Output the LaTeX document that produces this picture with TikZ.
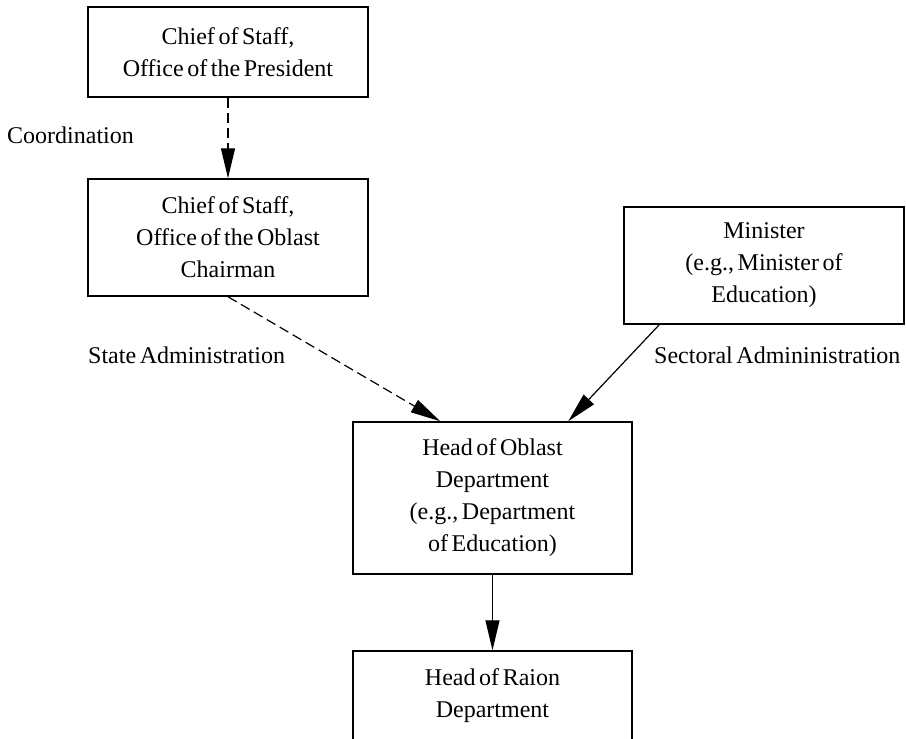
\documentclass[tikz,border=0pt]{standalone}
\usepackage{fontspec}
\setmainfont[WordSpace=0.6]{Liberation Serif}
\usetikzlibrary{arrows.meta}
\begin{document}
\begin{tikzpicture}[x=1pt,y=-1pt,
  box/.style={draw, line width=1.5pt, inner sep=0pt, align=center, font=\fontsize{24}{32}\selectfont},
  lbl/.style={inner sep=0pt, anchor=base west, font=\fontsize{24}{32}\selectfont},
  conn/.style={line width=1.2pt, -{Triangle[length=30pt,width=14pt]}},
  dsh/.style={dash pattern=on 10pt off 5pt}]
\useasboundingbox (0,0) rectangle (906,739);
\node[box, minimum width=280, minimum height=90] (pres) at (228,52) {Chief of Staff,\\Office of the President};
\node[box, minimum width=280, minimum height=117] (obl) at (228,237.5) {Chief of Staff,\\Office of the Oblast\\Chairman};
\node[box, minimum width=280, minimum height=117] (mini) at (764,265.5) {Minister\\(e.g., Minister of\\Education)};
\node[box, minimum width=279, minimum height=152] (head) at (492.5,498) {Head of Oblast\\Department\\(e.g., Department\\of Education)};
\node[box, minimum width=279, minimum height=90] (raion) at (492.5,696) {Head of Raion\\Department};
\node[lbl] (coord) at (7,143) {Coordination};
\node[lbl] (state) at (88,363) {State Administration};
\node[lbl] (sect) at (654,363) {Sectoral Admininistration};
\draw[conn, dsh] (pres.south) -- (obl.north);
\draw[conn, dsh] (obl.south) -- ([xshift=88pt]head.north west);
\draw[conn] ([xshift=36pt]mini.south west) -- ([xshift=216pt]head.north west);
\draw[conn] (head.south) -- (raion.north);
\end{tikzpicture}
\end{document}
